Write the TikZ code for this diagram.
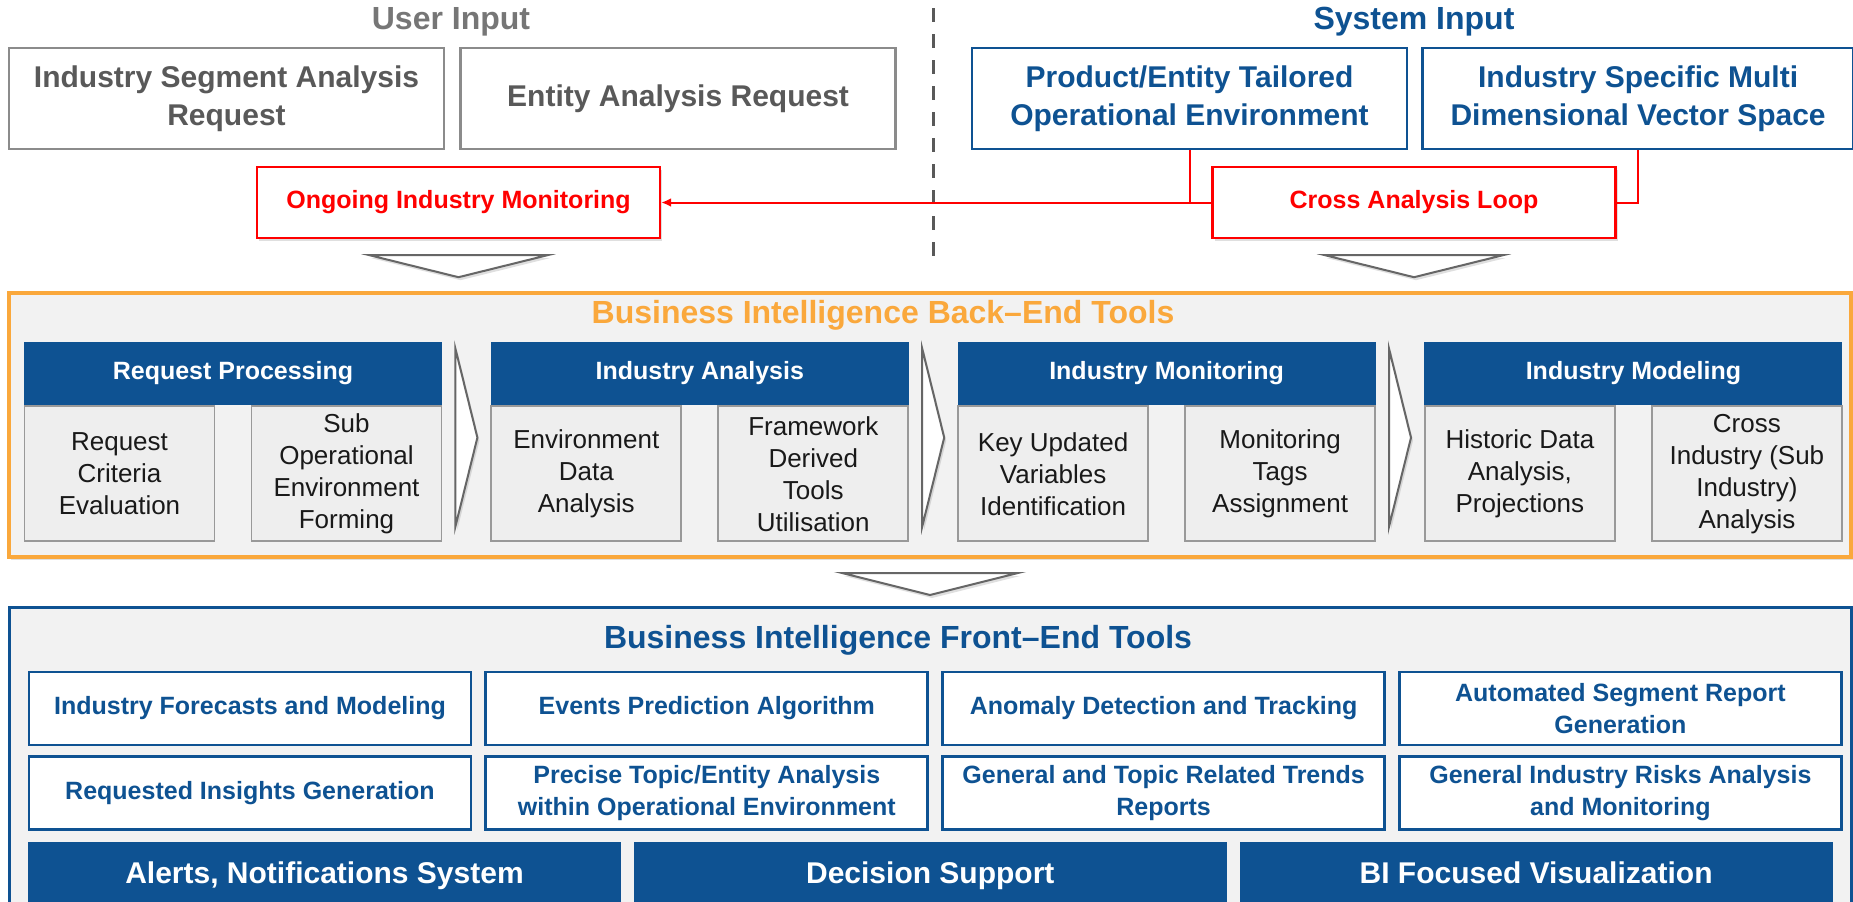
\documentclass[tikz,border=0pt]{standalone}
\usepackage{fontspec}
\setmainfont{Liberation Sans}
\usetikzlibrary{arrows.meta,positioning,calc,shadows}
\definecolor{biblue}{RGB}{14,82,146}
\definecolor{biorange}{RGB}{250,168,60}
\definecolor{bired}{RGB}{255,0,0}
\definecolor{bigray}{RGB}{118,118,118}
\definecolor{bitext}{RGB}{89,89,89}
\definecolor{bipanel}{RGB}{242,242,242}
\definecolor{bisub}{RGB}{238,238,238}

\begin{document}
\begin{tikzpicture}[
    x=0.5pt,y=-0.5pt,
    font=\bfseries,
    shadowed/.style={drop shadow={opacity=0.25,shadow xshift=1pt,shadow yshift=-1.5pt}},
    heading/.style={inner sep=0pt,font=\fontsize{16}{19}\selectfont\bfseries},
    inbox/.style={draw=bigray!85,line width=1.3pt,fill=white,text=bitext,align=center,
                  minimum height=50.5pt,inner sep=1pt,
                  font=\fontsize{15}{19}\selectfont\bfseries},
    sysbox/.style={inbox,draw=biblue,text=biblue},
    redbox/.style={draw=bired,line width=1.2pt,fill=white,text=bired,shadowed,
                   minimum width=201.5pt,minimum height=35.5pt,
                   font=\fontsize{12.5}{15}\selectfont\bfseries},
    panel/.style={fill=bipanel,inner sep=0pt,shadowed},
    head/.style={fill=biblue,text=white,minimum width=209pt,minimum height=31.5pt,
                 inner sep=0pt,font=\fontsize{12.5}{15}\selectfont\bfseries},
    sub/.style={draw=black!40,line width=0.9pt,fill=bisub,align=center,text=black!90,
                minimum width=95pt,minimum height=67.5pt,inner sep=1pt,
                font=\fontsize{13}{16}\selectfont\mdseries},
    tool/.style={draw=biblue,line width=1.4pt,fill=white,text=biblue,align=center,
                 minimum width=221pt,minimum height=36.5pt,inner sep=1pt,
                 font=\fontsize{12.5}{16}\selectfont\bfseries},
    bar/.style={fill=biblue,text=white,minimum width=296.5pt,minimum height=33.5pt,
                inner sep=1pt,text height=11pt,text depth=3pt,
                font=\fontsize{15}{18}\selectfont\bfseries},
    link/.style={bired,line width=1pt},
    chev/.style={draw=black!60,line width=1pt,fill=white,line join=miter,shadowed},
    sepline/.style={draw=black!65,line width=1.5pt,dash pattern=on 7pt off 6pt}
  ]
  \clip (0,0) rectangle (1853,901);

  % inputs
  \node[heading,text=bigray] (userin) at (451,22) {User Input};
  \node[heading,text=biblue] (sysin) at (1414,22) {System Input};
  \node[inbox,minimum width=217.5pt] (segreq) at (226.5,98.5) {Industry Segment Analysis\\Request};
  \node[inbox,minimum width=217.5pt,right=7pt of segreq] (entreq) {Entity Analysis Request};
  \node[sysbox,minimum width=217.5pt] (prodenv) at (1189.5,98.5) {Product/Entity Tailored\\Operational Environment};
  \node[sysbox,minimum width=215.5pt,right=6.5pt of prodenv] (vecspace) {Industry Specific Multi\\Dimensional Vector Space};

  \draw[sepline] (933,8) -- (933,265);

  \node[redbox] (monitor) at (458.5,202.5) {Ongoing Industry Monitoring};
  \node[redbox] (crossloop) at (1414,202.5) {Cross Analysis Loop};
  \coordinate (split) at (prodenv.south |- crossloop.west);
  \draw[link] (prodenv.south) |- (crossloop.west);
  \draw[link,-{Latex[length=5pt,width=4.5pt]}] (split) -- (monitor.east);
  \draw[link] (crossloop.east) -| (vecspace.south);

  \foreach \n in {monitor,crossloop}
    \draw[chev,shift={(\n.south)}] (-89,16) -- (89,16) -- (0,38) -- cycle;

  % back-end tools
  \node[panel,draw=biorange,line width=2pt,minimum width=921pt,minimum height=132pt] (backend) at (930,425) {};
  \node[heading,text=biorange] (betitle) at (883,315) {Business Intelligence Back--End Tools};

  \node[head] (reqproc) at (233,373.5) {Request Processing};
  \node[head,right=24pt of reqproc] (indana) {Industry Analysis};
  \node[head,right=24pt of indana] (indmon) {Industry Monitoring};
  \node[head,right=24pt of indmon] (indmod) {Industry Modeling};

  \node[sub,anchor=north west] (rp1) at (reqproc.south west) {Request\\Criteria\\Evaluation};
  \node[sub,anchor=north east] (rp2) at (reqproc.south east) {Sub\\Operational\\Environment\\Forming};
  \node[sub,anchor=north west] (ia1) at (indana.south west) {Environment\\Data\\Analysis};
  \node[sub,anchor=north east] (ia2) at (indana.south east) {Framework\\Derived\\Tools\\Utilisation};
  \node[sub,anchor=north west] (im1) at (indmon.south west) {Key Updated\\Variables\\Identification};
  \node[sub,anchor=north east] (im2) at (indmon.south east) {Monitoring\\Tags\\Assignment};
  \node[sub,anchor=north west] (md1) at (indmod.south west) {Historic Data\\Analysis,\\Projections};
  \node[sub,anchor=north east] (md2) at (indmod.south east) {Cross\\Industry (Sub\\Industry)\\Analysis};

  \foreach \a/\b in {reqproc/indana,indana/indmon,indmon/indmod}
    \draw[chev,shift={($(\a.north east)!0.5!(\b.north west)$)}] (-11,7) -- (11,96) -- (-11,185) -- cycle;

  \draw[chev,shift={(backend.south)}] (-88,14) -- (88,14) -- (0,36) -- cycle;

  % front-end tools
  \node[panel,draw=biblue,line width=1.5pt,minimum width=921pt,minimum height=151.5pt] (frontend) at (930,758.5) {};
  \node[heading,text=biblue] (fetitle) at (898,640) {Business Intelligence Front--End Tools};

  \node[tool] (fe1) at (250,708.5) {Industry Forecasts and Modeling};
  \node[tool,right=6pt of fe1] (fe2) {Events Prediction Algorithm};
  \node[tool,right=6pt of fe2] (fe3) {Anomaly Detection and Tracking};
  \node[tool,right=6pt of fe3] (fe4) {Automated Segment Report\\Generation};
  \node[tool,below=4.5pt of fe1] (fe5) {Requested Insights Generation};
  \node[tool,below=4.5pt of fe2] (fe6) {Precise Topic/Entity Analysis\\within Operational Environment};
  \node[tool,below=4.5pt of fe3] (fe7) {General and Topic Related Trends\\Reports};
  \node[tool,below=4.5pt of fe4] (fe8) {General Industry Risks Analysis\\and Monitoring};

  \node[bar,below=5pt of fe5.south west,anchor=north west] (alerts) {Alerts, Notifications System};
  \node[bar,right=6pt of alerts] (decision) {Decision Support};
  \node[bar,right=6pt of decision] (bivis) {BI Focused Visualization};
\end{tikzpicture}
\end{document}
